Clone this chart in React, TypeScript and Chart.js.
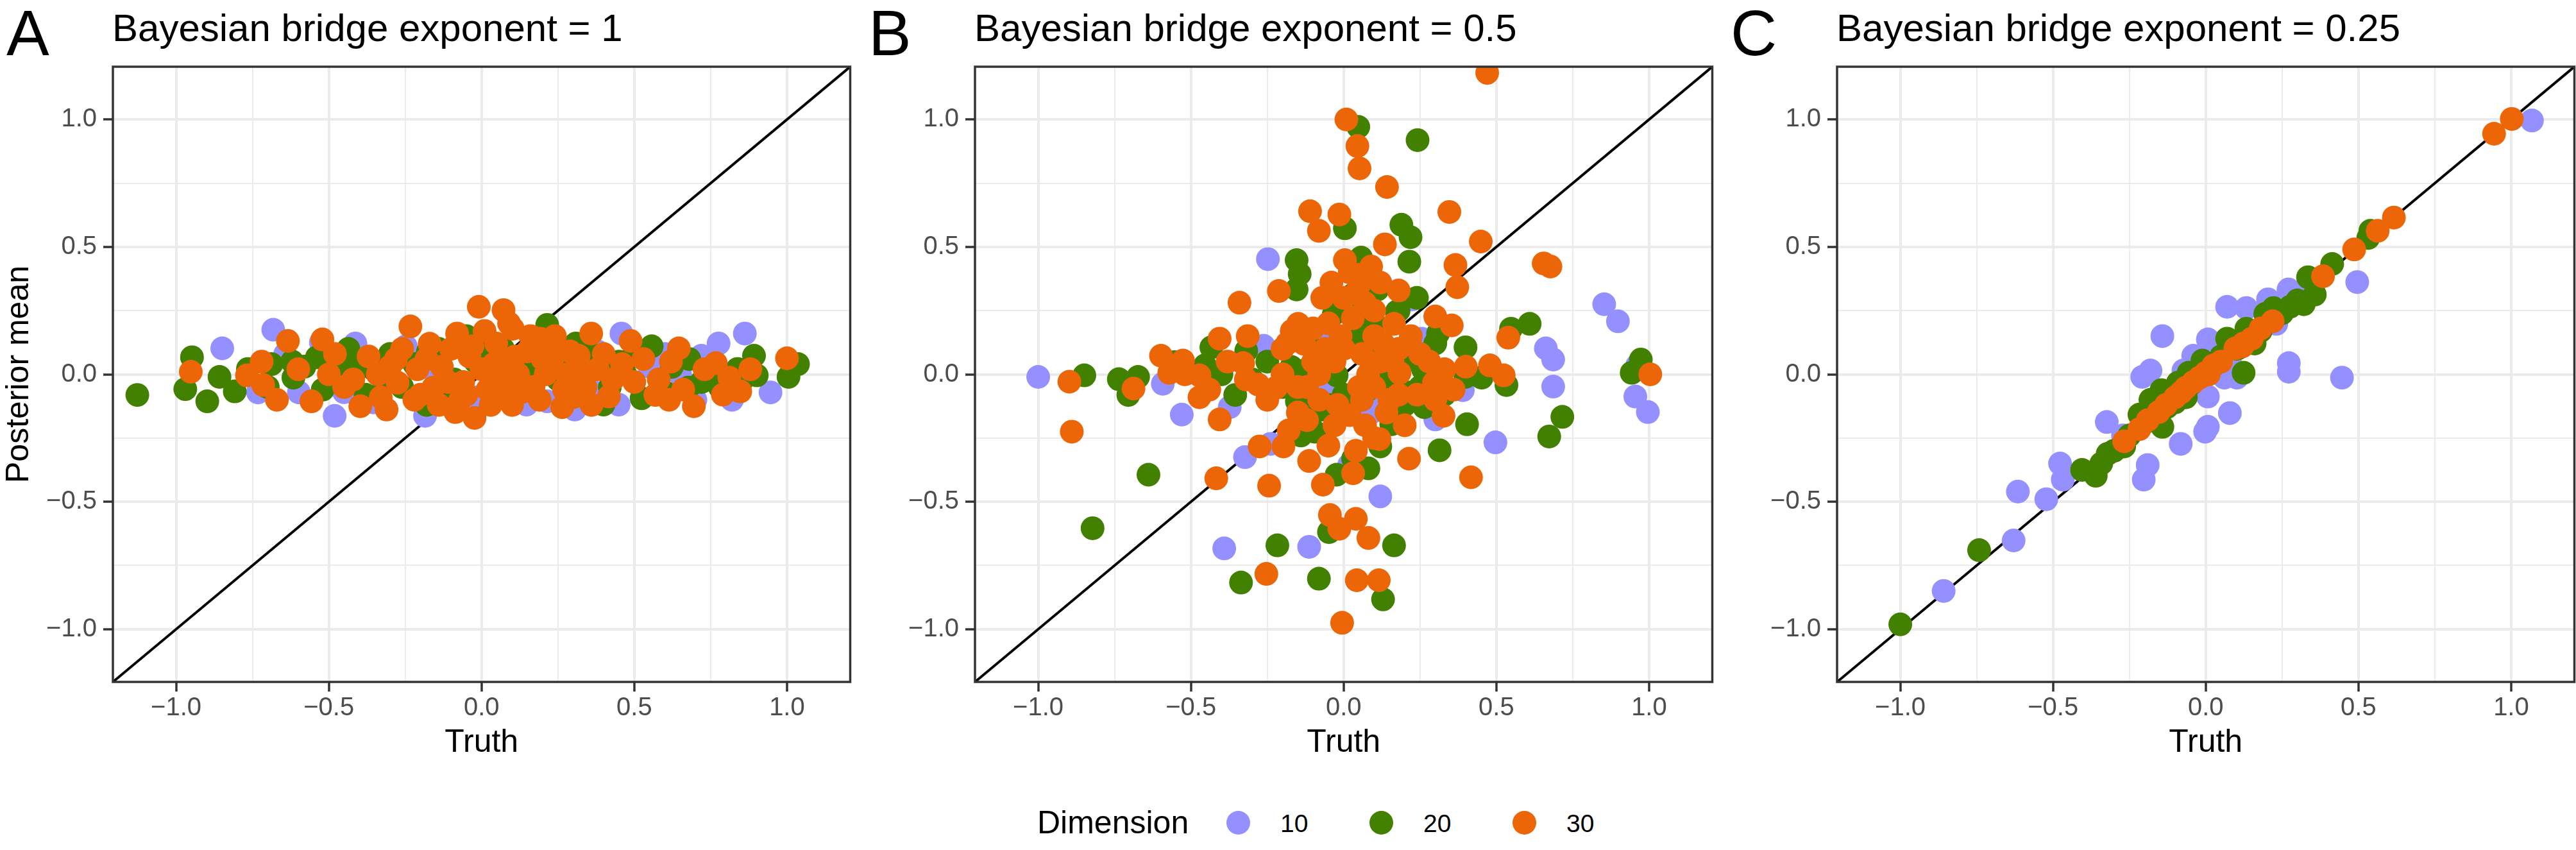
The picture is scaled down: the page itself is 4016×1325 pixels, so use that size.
import React, { useEffect, useRef } from 'react';
import { Chart, registerables } from 'chart.js';

Chart.register(...registerables);

// ---------- data ----------
const axisLimits = [-1.207, 1.207];
const tickValues = [-1, -0.75, -0.5, -0.25, 0, 0.25, 0.5, 0.75, 1];
const dimensionLabels = ['10', '20', '30'];
const dimensionColors = ['#9590FF', '#428000', '#EC6608'];
const panelLetters = ['A', 'B', 'C'];
const panelTitles = [
  'Bayesian bridge exponent = 1',
  'Bayesian bridge exponent = 0.5',
  'Bayesian bridge exponent = 0.25',
];
const xAxisTitle = 'Truth';
const yAxisTitle = 'Posterior mean';
const legendTitle = 'Dimension';

type Pt = [number, number];

const panelA_dim10: Pt[] = [
  [-0.849, 0.102], [-0.682, 0.175], [-0.643, 0.079], [-0.732, -0.071], [-0.598, -0.071],
  [-0.526, 0.125], [-0.481, -0.163], [-0.413, 0.121], [-0.355, -0.11], [-0.248, 0.11],
  [-0.185, -0.163], [-0.158, 0.015], [-0.077, -0.133], [-0.014, -0.09], [0.03, 0.06],
  [0.147, -0.119], [0.215, -0.106], [0.305, -0.138], [0.38, 0.09], [0.449, -0.119],
  [0.458, 0.16], [0.65, 0.0], [0.72, 0.073], [0.776, 0.121], [0.82, -0.1],
  [0.862, 0.16], [0.946, -0.071], [-0.3, 0.05], [0.1, 0.02], [0.55, 0.03],
  [-0.45, -0.07], [-0.2, 0.06], [0.05, -0.05], [0.25, 0.06], [0.35, -0.05],
  [0.6, 0.08], [0.7, -0.1],
];
const panelA_dim20: Pt[] = [
  [-1.127, -0.081], [-0.97, -0.058], [-0.948, 0.067], [-0.898, -0.106], [-0.858, -0.01],
  [-0.808, -0.067], [-0.765, 0.021], [-0.688, 0.04], [-0.616, -0.013], [-0.539, 0.067],
  [-0.494, -0.013], [-0.436, 0.1], [-0.45, 0.04], [-0.355, 0.021], [-0.3, 0.08],
  [-0.26, -0.05], [-0.176, 0.087], [-0.18, -0.12], [-0.12, -0.06], [-0.05, 0.15],
  [-0.02, 0.05], [0.04, -0.08], [0.093, -0.1], [0.12, 0.06], [0.174, 0.044],
  [0.215, 0.194], [0.25, -0.02], [0.309, 0.121], [0.33, -0.06], [0.38, 0.03],
  [0.399, -0.119], [0.47, 0.002], [0.524, -0.094], [0.557, 0.11], [0.623, 0.029],
  [0.677, -0.052], [0.72, -0.03], [0.758, 0.029], [0.838, 0.021], [0.892, 0.073],
  [0.901, -0.004], [1.005, -0.01], [1.036, 0.04], [-0.58, 0.03], [-0.38, -0.08],
  [0.0, 0.12], [0.07, 0.1], [0.45, 0.05],
  [-0.7, -0.05], [-0.62, 0.05], [-0.52, -0.06], [-0.4, 0.05], [-0.32, -0.03],
  [-0.22, 0.04], [-0.14, 0.1], [-0.09, -0.02], [0.02, 0.09], [0.06, -0.03],
  [0.15, -0.02], [0.2, 0.1], [0.27, 0.05], [0.35, 0.09], [0.42, -0.05],
  [0.5, 0.08], [0.6, -0.07], [0.68, 0.06], [0.78, -0.05], [0.85, -0.03],
];
const panelA_dim30: Pt[] = [
  [-0.952, 0.01], [-0.768, -0.004], [-0.715, -0.042], [-0.67, -0.1], [-0.634, 0.131],
  [-0.557, -0.106], [-0.521, 0.137], [-0.5, 0.0], [-0.45, -0.05], [-0.397, -0.125],
  [-0.37, 0.07], [-0.311, -0.138], [-0.275, -0.033], [-0.26, 0.1], [-0.233, 0.188],
  [-0.2, -0.08], [-0.158, -0.052], [-0.13, 0.03], [-0.1, 0.1], [-0.086, -0.148],
  [-0.06, -0.03], [-0.04, 0.07], [-0.023, -0.171], [-0.009, 0.265], [0.0, 0.02],
  [0.02, -0.06], [0.048, 0.121], [0.06, 0.05], [0.072, 0.252], [0.08, -0.09],
  [0.102, 0.179], [0.12, 0.0], [0.15, 0.09], [0.17, -0.05], [0.192, 0.14],
  [0.23, 0.05], [0.264, -0.129], [0.28, 0.0], [0.318, 0.073], [0.34, -0.05],
  [0.359, 0.16], [0.38, 0.02], [0.417, -0.087], [0.488, 0.131], [0.5, -0.03],
  [0.569, -0.081], [0.614, -0.1], [0.646, 0.102], [0.695, -0.125], [0.767, 0.044],
  [0.811, -0.013], [0.847, -0.067], [1.0, 0.063], [-0.3, 0.03], [-0.18, 0.06],
  [0.1, -0.12], [0.2, 0.06], [0.25, 0.1], [0.3, -0.09], [-0.07, -0.1], [0.05, -0.02],
  [-0.72, 0.05], [-0.6, 0.02], [-0.48, 0.08], [-0.42, -0.02], [-0.34, 0.0],
  [-0.33, -0.09], [-0.28, 0.06], [-0.22, -0.1], [-0.21, 0.02], [-0.17, 0.12],
  [-0.14, -0.12], [-0.11, -0.03], [-0.08, 0.16], [-0.05, -0.08], [-0.03, 0.11],
  [0.01, 0.17], [0.03, -0.12], [0.04, 0.04], [0.07, -0.04], [0.09, 0.2],
  [0.11, 0.07], [0.13, -0.07], [0.16, 0.15], [0.19, -0.1], [0.21, 0.0],
  [0.24, 0.15], [0.27, -0.06], [0.29, 0.09], [0.33, 0.02], [0.36, -0.12],
  [0.4, 0.08], [0.43, -0.02], [0.46, 0.04], [0.53, 0.06], [0.58, -0.02],
  [0.62, 0.05], [0.66, -0.06], [0.73, 0.02], [0.79, -0.08], [0.88, 0.02],
];

const panelB_dim10: Pt[] = [
  [-1.0, -0.01], [-0.592, -0.037], [-0.53, -0.158], [-0.373, -0.129], [-0.391, -0.683],
  [-0.323, -0.325], [-0.262, 0.112], [-0.248, 0.452], [-0.239, -0.273], [-0.113, -0.677],
  [-0.05, -0.062], [-0.041, 0.035], [0.018, -0.356], [0.06, -0.1], [0.102, -0.119],
  [0.12, -0.479], [0.224, 0.294], [0.255, 0.14], [0.273, 0.096], [0.3, -0.177],
  [0.39, -0.062], [0.497, -0.267], [0.662, 0.102], [0.686, 0.058], [0.686, -0.048],
  [0.853, 0.275], [0.898, 0.208], [0.955, -0.087], [0.961, 0.035], [0.996, -0.148],
  [-0.05, 0.17], [0.09, -0.15],
];
const panelB_dim20: Pt[] = [
  [-0.849, -0.004], [-0.736, -0.019], [-0.673, -0.01], [-0.705, -0.081], [-0.639, -0.394],
  [-0.822, -0.604], [-0.553, 0.048], [-0.454, 0.035], [-0.433, 0.106], [-0.355, -0.081],
  [-0.319, 0.092], [-0.154, 0.448], [-0.144, 0.394], [-0.154, 0.333], [-0.171, 0.029],
  [-0.153, -0.106], [-0.14, -0.24], [-0.095, -0.225], [-0.217, -0.671], [-0.336, -0.817],
  [-0.081, -0.802], [-0.048, -0.619], [0.048, 0.971], [0.004, 0.573], [0.242, 0.919],
  [0.189, 0.587], [0.219, 0.538], [0.215, 0.442], [0.057, 0.458], [0.084, 0.256],
  [0.174, 0.246], [-0.032, 0.237], [0.111, 0.333], [0.031, 0.313], [-0.023, -0.004],
  [-0.023, -0.394], [0.081, -0.369], [0.031, -0.331], [0.12, -0.283], [0.156, -0.196],
  [0.165, -0.671], [0.129, -0.883], [0.314, -0.298], [0.404, -0.196], [0.399, 0.106],
  [0.399, -0.01], [0.452, -0.013], [0.533, -0.042], [0.548, 0.179], [0.609, 0.198],
  [0.673, -0.244], [0.716, -0.167], [0.943, 0.006], [0.973, 0.058], [0.3, 0.121],
  [0.309, 0.16], [0.21, -0.071], [0.264, -0.129], [0.111, 0.083], [0.138, -0.033],
  [-0.25, 0.05], [-0.1, 0.1], [0.05, 0.15], [0.2, 0.05], [0.25, -0.05], [-0.05, -0.12],
  [-0.2, -0.05], [-0.12, 0.02], [-0.06, 0.06], [0.0, -0.08], [0.06, 0.1],
  [0.1, 0.2], [0.15, 0.05], [0.2, -0.12], [0.26, 0.02], [0.33, -0.08],
  [-0.08, -0.14], [0.08, -0.06], [0.18, 0.25], [0.24, 0.3], [-0.3, -0.02], [-0.4, 0.0],
];
const panelB_dim30: Pt[] = [
  [0.47, 1.183], [0.009, 1.0], [0.045, 0.896], [0.052, 0.808], [0.142, 0.735],
  [-0.11, 0.64], [-0.014, 0.627], [-0.081, 0.563], [0.346, 0.637], [0.449, 0.521],
  [0.135, 0.51], [0.366, 0.429], [0.372, 0.342], [0.655, 0.435], [0.677, 0.423],
  [0.18, 0.329], [-0.212, 0.327], [-0.341, 0.281], [0.09, 0.423], [0.004, 0.448],
  [0.048, 0.39], [0.3, 0.227], [0.354, 0.192], [0.165, 0.198], [0.539, 0.144],
  [-0.598, 0.073], [-0.526, 0.054], [-0.571, 0.006], [-0.406, 0.14], [-0.314, 0.15],
  [-0.472, -0.004], [-0.472, -0.09], [-0.406, -0.177], [-0.898, -0.029], [-0.688, -0.056],
  [-0.89, -0.225], [-0.417, -0.408], [-0.244, -0.437], [-0.197, -0.283], [-0.275, -0.283],
  [-0.113, -0.34], [-0.068, -0.433], [-0.045, -0.552], [-0.014, -0.606], [0.04, -0.567],
  [0.081, -0.642], [-0.253, -0.783], [0.043, -0.808], [0.115, -0.808], [-0.005, -0.975],
  [0.214, -0.331], [0.417, -0.404], [0.117, -0.254], [0.031, -0.388], [0.327, -0.163],
  [0.479, 0.035], [0.524, -0.004], [1.004, 0.0], [0.296, -0.033], [0.183, 0.006],
  [-0.221, -0.052], [-0.329, 0.044], [-0.185, 0.121], [-0.149, 0.198], [-0.1, 0.05],
  [-0.05, 0.2], [0.0, 0.1], [0.05, -0.05], [0.1, 0.15], [0.15, -0.1],
  [-0.15, -0.15], [-0.2, 0.0], [0.25, 0.08], [0.3, -0.1], [-0.07, 0.3],
  [0.02, 0.4], [0.07, 0.28], [-0.12, -0.05], [0.12, 0.05], [-0.03, -0.2],
  [0.07, -0.2], [0.2, -0.2], [-0.25, -0.1],
  [-0.2, 0.1], [-0.17, 0.17], [-0.13, 0.12], [-0.1, 0.18], [-0.08, 0.0],
  [-0.06, 0.1], [-0.03, 0.05], [-0.01, 0.15], [0.03, 0.22], [0.06, 0.08],
  [0.08, 0.0], [0.1, 0.25], [0.13, 0.12], [0.16, 0.05], [0.18, 0.1],
  [0.22, 0.15], [0.24, -0.08], [0.28, 0.05], [0.33, 0.02], [0.36, -0.06],
  [0.4, 0.03], [-0.15, -0.05], [-0.12, -0.18], [-0.08, -0.1], [-0.02, -0.12],
  [0.02, -0.16], [0.06, -0.1], [0.1, -0.05], [0.14, -0.15], [0.18, -0.08],
  [-0.28, -0.04], [-0.32, -0.02], [-0.38, 0.05], [-0.44, -0.06], [-0.52, 0.0],
  [-0.18, -0.22], [-0.05, -0.28], [0.04, -0.3], [0.1, -0.25], [0.0, 0.3],
  [0.05, 0.35], [-0.04, 0.36], [0.12, 0.36],
];

const panelC_dim10: Pt[] = [
  [1.068, 0.996], [0.496, 0.362], [0.271, 0.333], [0.33, 0.313], [0.204, 0.294],
  [0.07, 0.265], [0.133, 0.26], [0.231, 0.198], [-0.142, 0.15], [0.007, 0.137],
  [-0.041, 0.073], [0.082, 0.073], [-0.208, -0.01], [-0.181, 0.015], [0.102, -0.013],
  [0.061, -0.013], [0.272, 0.044], [0.272, 0.01], [0.446, -0.013], [0.007, -0.087],
  [-0.324, -0.187], [0.079, -0.152], [0.007, -0.206], [-0.002, -0.225], [-0.082, -0.273],
  [-0.19, -0.356], [-0.203, -0.413], [-0.477, -0.35], [-0.468, -0.413], [-0.615, -0.46],
  [-0.522, -0.49], [-0.629, -0.652], [-0.858, -0.85], [-0.271, -0.24], [-0.073, 0.015],
];
const panelC_dim20: Pt[] = [
  [-1.0, -0.981], [-0.742, -0.69], [-0.405, -0.375], [-0.36, -0.398], [-0.342, -0.35],
  [-0.321, -0.312], [-0.3, -0.3], [-0.267, -0.283], [-0.25, -0.24], [-0.217, -0.158],
  [-0.2, -0.19], [-0.181, -0.1], [-0.142, -0.206], [-0.145, -0.062], [-0.127, -0.129],
  [-0.1, -0.11], [-0.091, -0.033], [-0.065, -0.09], [-0.056, 0.006], [-0.05, -0.04],
  [-0.011, 0.054], [0.0, 0.0], [0.03, 0.04], [0.05, 0.07], [0.07, 0.14],
  [0.1, 0.1], [0.106, 0.102], [0.124, 0.006], [0.133, 0.179], [0.15, 0.16],
  [0.16, 0.121], [0.18, 0.17], [0.195, 0.237], [0.222, 0.26], [0.25, 0.24],
  [0.276, 0.265], [0.3, 0.29], [0.321, 0.275], [0.357, 0.313], [0.335, 0.381],
  [0.414, 0.433], [0.532, 0.535], [0.539, 0.563],
];
const panelC_dim30: Pt[] = [
  [1.002, 1.002], [0.944, 0.944], [0.616, 0.615], [0.563, 0.563], [0.486, 0.49],
  [0.384, 0.385], [0.219, 0.208], [0.18, 0.18], [0.151, 0.14], [0.124, 0.121],
  [0.12, 0.11], [0.097, 0.102], [0.05, 0.05], [0.025, 0.035], [0.01, 0.0],
  [0.0, 0.006], [-0.02, -0.013], [-0.04, -0.03], [-0.065, -0.052], [-0.08, -0.07],
  [-0.1, -0.09], [-0.13, -0.12], [-0.154, -0.148], [-0.19, -0.18], [-0.217, -0.215],
  [-0.267, -0.263],
];

const panelData: Pt[][][] = [
  [panelA_dim10, panelA_dim20, panelA_dim30],
  [panelB_dim10, panelB_dim20, panelB_dim30],
  [panelC_dim10, panelC_dim20, panelC_dim30],
];

// ---------- layout / style ----------
const FONT = '"Liberation Sans", Arial, Helvetica, sans-serif';
const PANEL_W = 1344;
const CANVAS_H = 1200;

const isMajor = (v: number) => Math.abs(v * 2 - Math.round(v * 2)) < 1e-9;
const fmtTick = (v: number) => (isMajor(v) ? v.toFixed(1).replace('-', '\u2212') : '');

const borderPlugin = {
  id: 'panelBorder',
  afterDatasetsDraw(chart: any) {
    const { ctx, chartArea } = chart;
    ctx.save();
    ctx.strokeStyle = '#333333';
    ctx.lineWidth = 3.5;
    ctx.strokeRect(chartArea.left, chartArea.top, chartArea.right - chartArea.left, chartArea.bottom - chartArea.top);
    ctx.restore();
  },
};

function Panel({ index }: { index: number }) {
  const ref = useRef<HTMLCanvasElement | null>(null);
  useEffect(() => {
    if (!ref.current) return;
    const series = panelData[index];
    const datasets: any[] = series.map((pts, k) => ({
      label: dimensionLabels[k],
      data: pts.map(([x, y]) => ({ x, y })),
      backgroundColor: dimensionColors[k],
      borderWidth: 0,
      pointRadius: 18.5,
      pointHoverRadius: 18.5,
      order: 3 - k,
      clip: 0,
    }));
    datasets.push({
      label: 'y = x',
      data: [
        { x: axisLimits[0], y: axisLimits[0] },
        { x: axisLimits[1], y: axisLimits[1] },
      ],
      showLine: true,
      borderColor: '#000000',
      borderWidth: 4,
      pointRadius: 0,
      order: 10,
      clip: 0,
    });
    const grid = {
      color: '#EBEBEB',
      lineWidth: (c: any) => (c.tick && isMajor(c.tick.value) ? 4 : 2),
      drawTicks: true,
      tickLength: 15,
      tickWidth: 3.5,
      tickColor: (c: any) => (c.tick && isMajor(c.tick.value) ? '#333333' : 'rgba(0,0,0,0)'),
    };
    const chart = new Chart(ref.current, {
      type: 'scatter',
      data: { datasets },
      plugins: [borderPlugin],
      options: {
        animation: false,
        responsive: false,
        devicePixelRatio: 1,
        events: [],
        layout: { padding: { top: 104, right: 18, bottom: 0, left: 0 } },
        plugins: { legend: { display: false }, tooltip: { enabled: false }, title: { display: false } },
        scales: {
          x: {
            type: 'linear',
            min: axisLimits[0],
            max: axisLimits[1],
            afterBuildTicks: (s: any) => {
              s.ticks = tickValues.map((v) => ({ value: v }));
            },
            afterFit: (s: any) => {
              s.height = 137;
            },
            grid,
            border: { display: false },
            ticks: {
              callback: (v: any) => fmtTick(Number(v)),
              autoSkip: false,
              maxRotation: 0,
              padding: 2,
              color: '#4D4D4D',
              font: { family: FONT, size: 40 },
            },
            title: {
              display: true,
              text: xAxisTitle,
              color: '#000000',
              font: { family: FONT, size: 50 },
              padding: { top: 0, bottom: 12 },
            },
          },
          y: {
            type: 'linear',
            min: axisLimits[0],
            max: axisLimits[1],
            afterBuildTicks: (s: any) => {
              s.ticks = tickValues.map((v) => ({ value: v }));
            },
            afterFit: (s: any) => {
              s.width = 176;
            },
            grid,
            border: { display: false },
            ticks: {
              callback: (v: any) => fmtTick(Number(v)),
              autoSkip: false,
              padding: 10,
              color: '#4D4D4D',
              font: { family: FONT, size: 40 },
            },
            title: {
              display: index === 0,
              text: yAxisTitle,
              color: '#000000',
              font: { family: FONT, size: 50 },
              padding: { top: 0, bottom: 0 },
            },
          },
        },
      } as any,
    });
    return () => chart.destroy();
  }, [index]);

  const left = index * PANEL_W;
  return (
    <>
      <canvas
        ref={ref}
        width={PANEL_W}
        height={CANVAS_H}
        style={{ position: 'absolute', left, top: 0, width: PANEL_W, height: CANVAS_H }}
      />
      <div
        style={{
          position: 'absolute', left: left + 10, top: 1, fontSize: 100, lineHeight: 1,
          fontFamily: FONT, color: '#000', whiteSpace: 'nowrap',
        }}
      >
        {panelLetters[index]}
      </div>
      <div
        style={{
          position: 'absolute', left: left + 175, top: 14, fontSize: 60, lineHeight: 1,
          fontFamily: FONT, color: '#000', whiteSpace: 'nowrap',
        }}
      >
        {panelTitles[index]}
      </div>
    </>
  );
}

const legendPointX = [1930, 2153, 2376];

export default function App() {
  return (
    <div
      style={{
        position: 'absolute', left: 0, top: 0, width: 4016, height: 1325,
        overflow: 'hidden', background: '#ffffff', fontFamily: FONT,
      }}
    >
      {panelLetters.map((_, i) => (
        <Panel key={i} index={i} />
      ))}
      <div
        style={{
          position: 'absolute', left: 1617, top: 1257, fontSize: 50, lineHeight: 1,
          color: '#000', whiteSpace: 'nowrap',
        }}
      >
        {legendTitle}
      </div>
      {dimensionLabels.map((lab, k) => (
        <React.Fragment key={lab}>
          <div
            style={{
              position: 'absolute', left: legendPointX[k] - 18.5, top: 1282 - 18.5, width: 37, height: 37,
              borderRadius: '50%', background: dimensionColors[k],
            }}
          />
          <div
            style={{
              position: 'absolute', left: legendPointX[k] + 66, top: 1264, fontSize: 39, lineHeight: 1,
              color: '#000', whiteSpace: 'nowrap',
            }}
          >
            {lab}
          </div>
        </React.Fragment>
      ))}
    </div>
  );
}
